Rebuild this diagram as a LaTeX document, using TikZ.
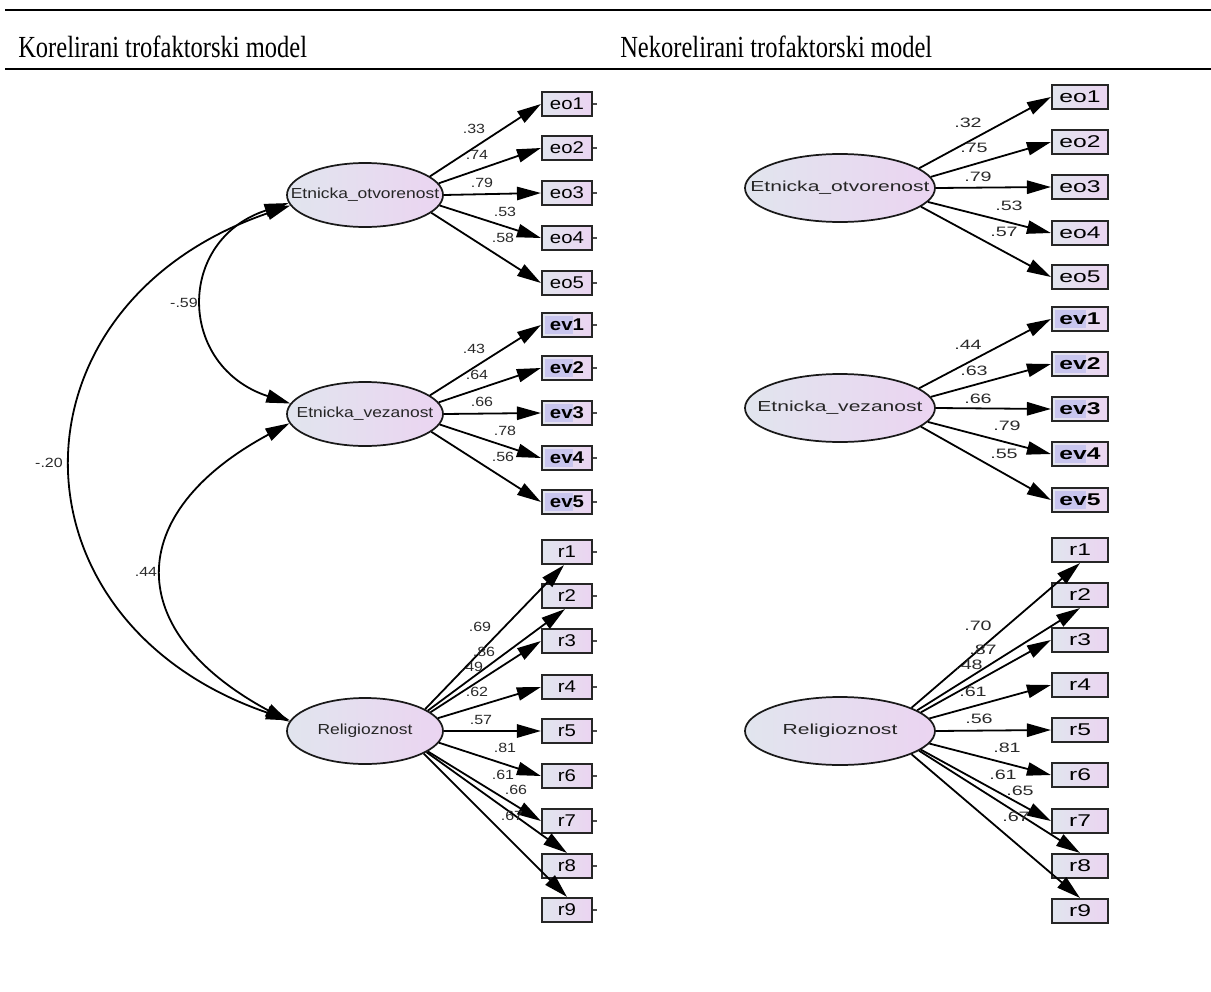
\documentclass[tikz,border=0pt]{standalone}
\usepackage{fontspec}
\setmainfont{Liberation Serif}
\newfontfamily\ttlfont[FakeStretch=0.8]{Liberation Serif}
\newfontfamily\amosL[FakeStretch=1.2]{Liberation Sans}
\newfontfamily\amosR[FakeStretch=1.45]{Liberation Sans}
\usetikzlibrary{arrows.meta,calc,shapes.geometric}
\definecolor{gradA}{HTML}{E1E5EE}
\definecolor{gradB}{HTML}{EBD4F1}
\definecolor{hl}{HTML}{C8C5EE}
\definecolor{numc}{HTML}{2A2A2A}
\begin{document}
\begin{tikzpicture}[x=0.75pt,y=-0.75pt,
  lat/.style={ellipse, draw=black!90, line width=1.3pt, left color=gradA, right color=gradB, inner sep=0pt, text=black!85},
  latL/.style={lat, minimum width=117pt, minimum height=48pt, font=\amosL\fontsize{10.9}{12}\selectfont},
  latR/.style={lat, minimum width=142.5pt, minimum height=51pt, font=\amosR\fontsize{10.9}{12}\selectfont},
  obs/.style={rectangle, draw=black!85, line width=1.6pt, left color=gradA, right color=gradB, inner sep=0pt, minimum height=18pt, text=black},
  obsL/.style={obs, minimum width=37.5pt, font=\amosL\fontsize{12.75}{14}\selectfont},
  obsR/.style={obs, minimum width=42pt, font=\amosR\fontsize{12.75}{14}\selectfont},
  hlbox/.style={path picture={\fill[hl] ($(path picture bounding box.west)+(3,-9)$) rectangle ($(path picture bounding box.center)+(6,9)$);}},
  hlL/.style={obsL, hlbox, font=\amosL\fontsize{12.75}{14}\selectfont\bfseries},
  hlR/.style={obsR, hlbox, font=\amosR\fontsize{12.75}{14}\selectfont\bfseries},
  load/.style={line width=1.35pt, draw=black, -{Triangle[length=18pt,width=10pt]}},
  cov/.style={line width=1.35pt, draw=black, {Triangle[length=18pt,width=10pt]}-{Triangle[length=18pt,width=10pt]}},
  numL/.style={font=\amosL\fontsize{10}{11}\selectfont, text=numc, inner sep=0pt},
  numR/.style={font=\amosR\fontsize{10.2}{11}\selectfont, text=numc, inner sep=0pt},
  tick/.style={line width=0.8pt, draw=black!70},
  ttl/.style={font=\ttlfont\fontsize{23}{26}\selectfont, anchor=base west, inner sep=0pt}
]
\useasboundingbox (0,0) rectangle (1211,992);

% ---------- header rules and titles
\draw[line width=1.8pt] (5,10) -- (1211,10);
\draw[line width=1.1pt] (5,69) -- (1211,69);
\draw[line width=2pt] (8,69) -- (27,69);
\draw[line width=2pt] (618,69) -- (718,69);
\draw[line width=2pt] (1135,69) -- (1211,69);
\node[ttl] (t1) at (18,57) {Korelirani trofaktorski model};
\node[ttl] (t2) at (620,57) {Nekorelirani trofaktorski model};

% ================= LEFT PANEL =================
\node[latL] (E1) at (365,195) {\makebox[0pt]{Etnicka\_otvorenost}};
\node[latL] (E2) at (365,414) {\makebox[0pt]{Etnicka\_vezanost}};
\node[latL, minimum height=49.5pt] (R) at (365,731) {\makebox[0pt]{Religioznost}};

\foreach \n/\y in {1/104,2/148,3/193,4/238,5/283}{
  \node[obsL] (eo\n) at (567,\y) {eo\n};
  \draw[tick] (eo\n.east) -- ++(4,0);
}
\foreach \n/\y in {1/325,2/368,3/413,4/458,5/502}{
  \node[hlL] (ev\n) at (567,\y) {ev\n};
  \draw[tick] (ev\n.east) -- ++(4,0);
}
\foreach \n/\y in {1/552,2/596,3/641,4/687,5/731,6/776,7/821,8/866,9/910}{
  \node[obsL] (r\n) at (567,\y) {r\n};
  \draw[tick] (r\n.east) -- ++(4,0);
}

\draw[load] (E1.16) -- (eo1.west);
\draw[load] (E1.9) -- (eo2.west);
\draw[load] (E1.0) -- (eo3.west);
\draw[load] (E1.-8) -- (eo4.west);
\draw[load] (E1.-15) -- (eo5.west);
\draw[load] (E2.16) -- (ev1.west);
\draw[load] (E2.9) -- (ev2.west);
\draw[load] (E2.0) -- (ev3.west);
\draw[load] (E2.-8) -- (ev4.west);
\draw[load] (E2.-15) -- (ev5.west);
\draw[load] (R.20) -- ($(r1.south)+(-3,0)$);
\draw[load] (R.18) -- ($(r2.south)+(-2,0)$);
\draw[load] (R.16) -- (r3.west);
\draw[load] (R.10) -- (r4.west);
\draw[load] (R.0) -- (r5.west);
\draw[load] (R.-9) -- (r6.west);
\draw[load] (R.-18) -- (r7.west);
\draw[load] (R.-19) -- (r8.north);
\draw[load] (R.-21) -- (r9.north);

\node[numL] (l1) at (474,129) {.33};
\node[numL] (l2) at (477,155) {.74};
\node[numL] (l3) at (482,183) {.79};
\node[numL] (l4) at (505,212) {.53};
\node[numL] (l5) at (503,238) {.58};
\node[numL] (l6) at (474,349) {.43};
\node[numL] (l7) at (477,375) {.64};
\node[numL] (l8) at (482,402) {.66};
\node[numL] (l9) at (505,431) {.78};
\node[numL] (l10) at (503,457) {.56};
\node[numL] (l11) at (480,627) {.69};
\node[numL] (l12) at (484,652) {.86};
\node[numL] (l13) at (472,667) {.49};
\node[numL] (l14) at (477,692) {.62};
\node[numL] (l15) at (481,720) {.57};
\node[numL] (l16) at (505,748) {.81};
\node[numL] (l17) at (503,775) {.61};
\node[numL] (l18) at (516,790) {.66};
\node[numL] (l19) at (512,816) {.67};

\draw[cov] (E1.186) .. controls ($(E1.186)+(-113,37)$) and ($(E2.172)+(-113,-37)$) .. (E2.172);
\draw[cov] (E1.188) .. controls ($(E1.188)+(-289,99)$) and ($(R.172)+(-289,-99)$) .. (R.172);
\draw[cov] (E2.187) .. controls ($(E2.187)+(-167,90)$) and ($(R.173)+(-167,-90)$) .. (R.173);
\node[numL] (c1) at (184,303) {-.59};
\node[numL] (c2) at (49,463) {-.20};
\node[numL] (c3) at (146,572) {.44};

% ================= RIGHT PANEL =================
\node[latR] (F1) at (840,188) {\makebox[0pt]{Etnicka\_otvorenost}};
\node[latR] (F2) at (840,408) {\makebox[0pt]{Etnicka\_vezanost}};
\node[latR] (Q) at (840,731) {\makebox[0pt]{Religioznost}};

\foreach \n/\y in {1/97,2/142,3/187,4/233,5/277}{
  \node[obsR] (feo\n) at (1080,\y) {eo\n};
}
\foreach \n/\y in {1/319,2/364,3/409,4/454,5/500}{
  \node[hlR] (fev\n) at (1080,\y) {ev\n};
}
\foreach \n/\y in {1/550,2/595,3/640,4/685,5/730,6/775,7/821,8/866,9/911}{
  \node[obsR] (fr\n) at (1080,\y) {r\n};
}

\draw[load] (F1.14) -- (feo1.west);
\draw[load] (F1.7) -- (feo2.west);
\draw[load] (F1.0) -- (feo3.west);
\draw[load] (F1.-9) -- (feo4.west);
\draw[load] (F1.-13) -- (feo5.west);
\draw[load] (F2.14) -- (fev1.west);
\draw[load] (F2.7) -- (fev2.west);
\draw[load] (F2.0) -- (fev3.west);
\draw[load] (F2.-9) -- (fev4.west);
\draw[load] (F2.-13) -- (fev5.west);
\draw[load] (Q.18) -- (fr1.south);
\draw[load] (Q.15) -- (fr2.south);
\draw[load] (Q.13) -- (fr3.west);
\draw[load] (Q.8) -- (fr4.west);
\draw[load] (Q.0) -- (fr5.west);
\draw[load] (Q.-8) -- (fr6.west);
\draw[load] (Q.-13) -- (fr7.west);
\draw[load] (Q.-14) -- (fr8.north);
\draw[load] (Q.-18) -- (fr9.north);

\node[numR] (m1) at (968,123) {.32};
\node[numR] (m2) at (974,148) {.75};
\node[numR] (m3) at (978,177) {.79};
\node[numR] (m4) at (1009,206) {.53};
\node[numR] (m5) at (1004,232) {.57};
\node[numR] (m6) at (968,345) {.44};
\node[numR] (m7) at (974,371) {.63};
\node[numR] (m8) at (978,399) {.66};
\node[numR] (m9) at (1007,426) {.79};
\node[numR] (m10) at (1004,454) {.55};
\node[numR] (m11) at (978,626) {.70};
\node[numR] (m12) at (983,650) {.87};
\node[numR] (m13) at (969,665) {.48};
\node[numR] (m14) at (973,692) {.61};
\node[numR] (m15) at (979,719) {.56};
\node[numR] (m16) at (1007,748) {.81};
\node[numR] (m17) at (1003,775) {.61};
\node[numR] (m18) at (1020,791) {.65};
\node[numR] (m19) at (1016,817) {.67};
\end{tikzpicture}
\end{document}
